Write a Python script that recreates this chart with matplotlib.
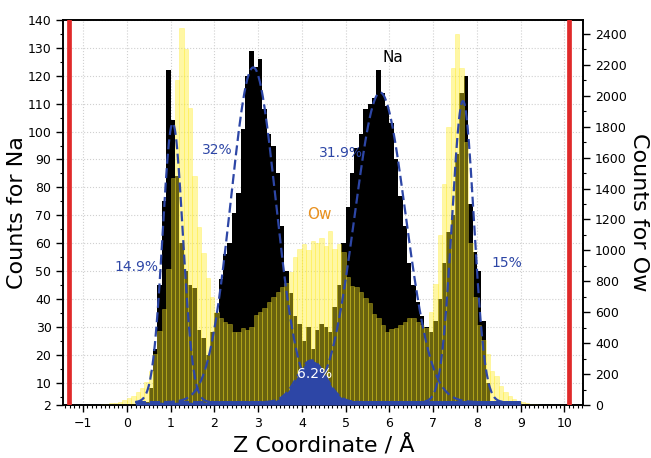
import numpy as np
import matplotlib
matplotlib.use('Agg')
import matplotlib.pyplot as plt
from matplotlib.ticker import MultipleLocator

# histogram data, 0.1 A bins (left edge of first bin given)
bin_width = 0.1
na_start = 0.4
na_counts = [3, 8, 22, 45, 75, 122, 104, 84, 60, 50,
             45, 44, 29, 26, 20, 28, 35, 47, 56, 60,
             71, 78, 101, 120, 129, 123, 126, 108, 99, 95,
             85, 66, 50, 42, 34, 31, 25, 30, 22, 29,
             31, 30, 28, 37, 45, 60, 73, 85, 94, 99,
             108, 110, 112, 122, 114, 109, 103, 90, 77, 66,
             53, 45, 39, 34, 30, 28, 32, 40, 53, 64,
             70, 92, 114, 120, 74, 57, 50, 32, 10, 3]

ow_start = -0.6
ow_counts = [5, 8, 12, 16, 22, 30, 45, 60, 85, 110,
             150, 220, 330, 480, 620, 880, 1470, 2100, 2440, 2300,
             1920, 1480, 1150, 980, 820, 700, 600, 560, 540, 525,
             470, 475, 495, 485, 505, 580, 600, 625, 665, 700,
             730, 760, 790, 860, 960, 1010, 1040, 1000, 1060, 1050,
             1080, 1030, 1125, 1010, 1040, 990, 830, 770, 760, 730,
             690, 660, 590, 560, 520, 470, 490, 500, 520, 540,
             560, 560, 540, 520, 500, 600, 780, 1100, 1430, 1800,
             2180, 2400, 2180, 1700, 1050, 700, 520, 420, 330, 222,
             190, 125, 82, 60, 41, 28, 17, 12, 8, 5,
             3]

# gaussian fits of the Na peaks
fit_centers = [1.05, 2.89, 4.22, 5.79, 7.68]
fit_widths = [0.23, 0.51, 0.33, 0.58, 0.25]
fit_heights = [100, 120, 15, 111, 108]
fit_base = 3.0
fit_labels = ['14.9%', '32%', '6.2%', '31.9%', '15%']

# positions of the walls
wall_z = [-1.33, 10.1]

blue = '#2d46a6'
red = '#e02a2a'
yellow = (1.0, 0.93, 0.15)

na_z = na_start + bin_width * np.arange(len(na_counts))
ow_z = ow_start + bin_width * np.arange(len(ow_counts))

fig = plt.figure(figsize=(6.51, 4.58), dpi=100)
ax = fig.add_axes([63.3 / 651, 1 - 405 / 458, 520 / 651, 385 / 458])

# Na histogram (black)
ax.bar(na_z, na_counts, width=bin_width, align='edge', color='black', linewidth=0)
ax.set_xlim(-1.45, 10.43)
ax.set_ylim(2, 140)
ax.set_yticks([2] + list(range(10, 141, 10)))
ax.yaxis.set_minor_locator(MultipleLocator(5))
ax.set_xticks(range(-1, 11))
ax.xaxis.set_minor_locator(MultipleLocator(0.1))
ax.grid(True, which='major', ls=':', color='#d0d0d0', lw=0.8)
ax.set_axisbelow(True)
ax.set_ylabel('Counts for Na', fontsize=16)
ax.yaxis.set_label_coords(-0.089, 0.5)
ax.yaxis.label.set_va('center')
ax.set_xlabel('Z Coordinate / Å', fontsize=16)
ax.xaxis.set_label_coords(0.5, -0.104)
ax.xaxis.label.set_va('center')

# Ow histogram (yellow, on top)
ax2 = ax.twinx()
ax2.bar(ow_z, ow_counts, width=bin_width, align='edge', color=yellow,
        alpha=0.42, edgecolor=yellow, linewidth=0.5)
ax2.set_ylim(0, 2490)
ax2.set_yticks(range(0, 2401, 200))
ax2.yaxis.set_minor_locator(MultipleLocator(100))
ax2.set_ylabel('Counts for Ow', fontsize=16, rotation=270)
ax2.yaxis.set_label_coords(1.107, 0.5)
ax2.yaxis.label.set_va('center')

for a in (ax, ax2):
    a.tick_params(which='major', direction='out', length=5, width=1, labelsize=9)
    a.tick_params(which='minor', direction='out', length=2.5, width=0.8)
    for sp in a.spines.values():
        sp.set_linewidth(1.2)

# overlay for fits, walls and labels (Na units)
ax3 = fig.add_axes(ax.get_position(), sharex=ax, sharey=ax)
ax3.set_axis_off()
ax3.patch.set_alpha(0)

z_fit = np.linspace(0.2, 9.0, 500)
for i, (c, s, h) in enumerate(zip(fit_centers, fit_widths, fit_heights)):
    y = fit_base + h * np.exp(-0.5 * ((z_fit - c) / s) ** 2)
    if i == 2:
        ax3.fill_between(z_fit, 2, y, color=blue, lw=0)
    ax3.plot(z_fit, y, color=blue, lw=1.6, dashes=(4.5, 2))

for z in wall_z:
    ax3.axvline(z, color=red, lw=3.4)

label_pos = [(0.21, 51.3), (2.07, 93.5), (4.3, 13), (4.9, 92.4), (8.68, 53)]
for (x, y), t in zip(label_pos, fit_labels):
    ax3.text(x, y, t, color='white' if t == '6.2%' else blue, fontsize=10,
             ha='center', va='center')
ax3.text(6.08, 126.4, 'Na', color='black', fontsize=11, ha='center', va='center')
ax3.text(4.41, 70.2, 'Ow', color='#e8901e', fontsize=11, ha='center', va='center')

fig.savefig('out.png', dpi=100)
